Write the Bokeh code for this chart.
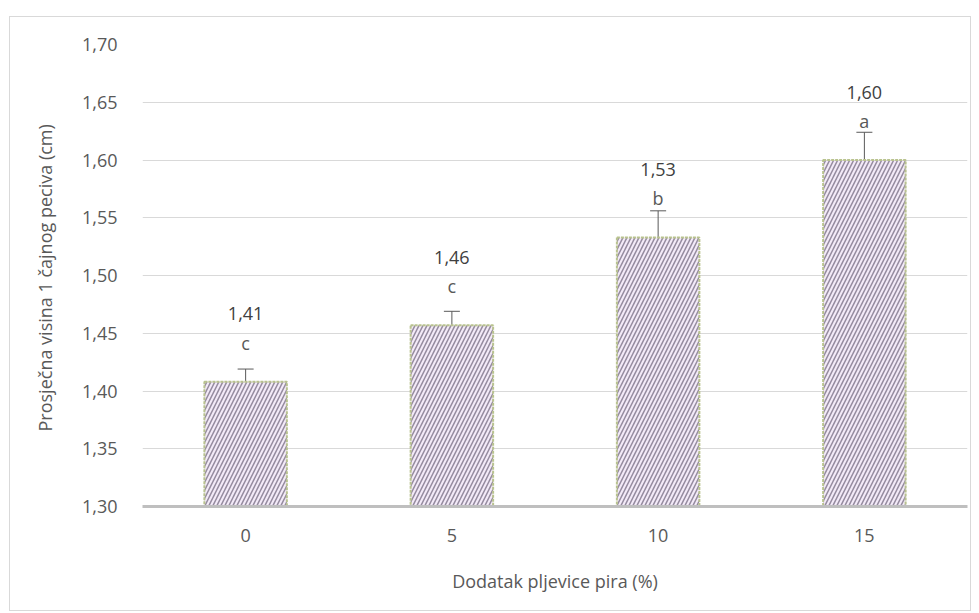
from bokeh.plotting import figure
from bokeh.models import ColumnDataSource, Whisker, FixedTicker
from bokeh.core.properties import value
from bokeh.embed import file_html
from bokeh.resources import INLINE

categories = ["0", "5", "10", "15"]
means = [1.408, 1.457, 1.533, 1.600]
errors = [0.011, 0.012, 0.023, 0.024]
value_labels = ["1,41", "1,46", "1,53", "1,60"]
letters = ["c", "c", "b", "a"]
y_ticks = [1.30, 1.35, 1.40, 1.45, 1.50, 1.55, 1.60, 1.65, 1.70]
y_tick_labels = ["1,30", "1,35", "1,40", "1,45", "1,50", "1,55", "1,60", "1,65", "1,70"]

src = ColumnDataSource(dict(
    x=categories, top=means,
    upper=[m + e for m, e in zip(means, errors)],
    lower=[m - e for m, e in zip(means, errors)],
    vlab=value_labels, let=letters,
))

FONT = "Open Sans"
FS = "18px"
GREY = "#595959"

p = figure(x_range=categories, y_range=(1.30, 1.70), width=962, height=595,
           output_backend="svg", toolbar_location=None,
           min_border_left=132, min_border_right=5, min_border_top=27, min_border_bottom=106)
p.margin = (16, 0, 0, 9)
p.styles = {"border": "1px solid #d9d9d9"}
p.outline_line_color = None

p.vbar(x="x", top="top", bottom=1.30, width=0.4, source=src,
       fill_color="#f3eaf8", line_color="#b9c38f", line_width=2, line_dash="3 1",
       hatch_pattern="/", hatch_color="#948a9e", hatch_weight=1.5, hatch_scale=8)

w = Whisker(source=src, base="x", upper="upper", lower="lower",
            line_color=GREY, line_width=1)
w.upper_head.size = 16
w.lower_head.size = 16
w.upper_head.line_color = GREY
w.lower_head.line_color = GREY
p.add_layout(w)

p.text(x="x", y="top", text="let", source=src, text_align="center",
       text_baseline="alphabetic", y_offset=-39, text_font=value(FONT),
       text_font_size=FS, text_color=GREY)
p.text(x="x", y="top", text="vlab", source=src, text_align="center",
       text_baseline="alphabetic", y_offset=-68, text_font=value(FONT),
       text_font_size=FS, text_color="#404040")

p.yaxis.ticker = FixedTicker(ticks=y_ticks)
p.yaxis.major_label_overrides = {t: l for t, l in zip(y_ticks, y_tick_labels)}
p.yaxis.axis_line_color = None
p.yaxis.major_tick_line_color = None
p.yaxis.minor_tick_line_color = None
p.yaxis.major_label_standoff = 19
p.yaxis.axis_label = "Prosječna visina 1 čajnog peciva  (cm)"
p.yaxis.axis_label_standoff = 22

p.xaxis.axis_line_color = "#bfbfbf"
p.xaxis.axis_line_width = 3
p.xaxis.major_tick_line_color = None
p.xaxis.minor_tick_line_color = None
p.xaxis.major_label_standoff = 16
p.xaxis.axis_label = "Dodatak pljevice pira (%)"
p.xaxis.axis_label_standoff = 24

for ax in (p.xaxis, p.yaxis):
    ax.major_label_text_font = FONT
    ax.major_label_text_font_size = FS
    ax.major_label_text_color = GREY
    ax.axis_label_text_font = FONT
    ax.axis_label_text_font_size = FS
    ax.axis_label_text_font_style = "normal"
    ax.axis_label_text_color = GREY

p.xgrid.grid_line_color = None
p.ygrid.grid_line_color = "#d9d9d9"
p.ygrid.grid_line_width = 1

open("out.html", "w").write(file_html(p, INLINE))
